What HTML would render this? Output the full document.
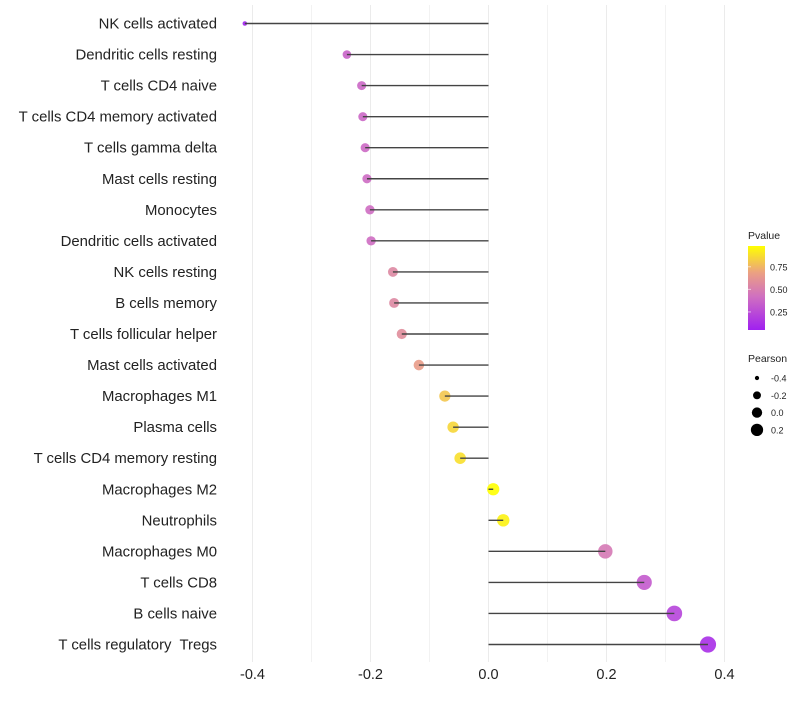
<!DOCTYPE html>
<html><head><meta charset="utf-8"><style>
body{margin:0;background:#fff;}
svg text{font-family:"Liberation Sans",Arial,sans-serif;}
</style></head><body>
<svg id="chart" width="800" height="700" viewBox="0 0 800 700" xmlns="http://www.w3.org/2000/svg">
<defs><linearGradient id="pg" x1="0" y1="1" x2="0" y2="0">
<stop offset="0" stop-color="#a020f0"/><stop offset="0.4" stop-color="#d070c0"/><stop offset="0.68" stop-color="#eba083"/><stop offset="1" stop-color="#ffff00"/></linearGradient></defs>
<g id="grid"></g>
<g id="rows"></g>
<g id="xaxis"></g>
<g>
<text x="748" y="239" font-size="10.5" fill="#222">Pvalue</text>
<rect x="748" y="246" width="17" height="84" fill="url(#pg)"/>
<g id="cbticks"></g>
</g>
<g id="sizeleg">
<text x="748" y="362" font-size="10.5" fill="#222">Pearson</text>
</g>
</svg>
<script>
const categories=["NK cells activated","Dendritic cells resting","T cells CD4 naive","T cells CD4 memory activated","T cells gamma delta","Mast cells resting","Monocytes","Dendritic cells activated","NK cells resting","B cells memory","T cells follicular helper","Mast cells activated","Macrophages M1","Plasma cells","T cells CD4 memory resting","Macrophages M2","Neutrophils","Macrophages M0","T cells CD8","B cells naive","T cells regulatory  Tregs"];
const pearson=[-0.413,-0.24,-0.215,-0.213,-0.209,-0.206,-0.201,-0.199,-0.162,-0.16,-0.147,-0.118,-0.074,-0.06,-0.048,0.008,0.025,0.198,0.264,0.315,0.372];
const pvalues=[0.06,0.36,0.38,0.38,0.39,0.4,0.41,0.41,0.55,0.55,0.58,0.66,0.8,0.85,0.88,0.98,0.94,0.47,0.32,0.22,0.12];
const xTicks=[-0.4,-0.2,0.0,0.2,0.4];
const xTickLabels=["-0.4","-0.2","0.0","0.2","0.4"];
const cbTicks=[0.25,0.5,0.75];
const cbTickLabels=["0.25","0.50","0.75"];
const sizeLegVals=[-0.4,-0.2,0.0,0.2];
const sizeLegLabels=["-0.4","-0.2","0.0","0.2"];

const NS="http://www.w3.org/2000/svg";
const X=v=>488.5+v*590;
const Y=i=>23.5+i*31.05;
const R=v=>1.15*Math.sqrt(Math.max(1,4+(v+0.413)*58));
const pmin=0.05,pmax=0.98;
const stops=[[0,[160,32,240]],[0.4,[208,112,192]],[0.68,[235,160,131]],[1,[255,255,0]]];
function col(p){let t=Math.min(1,Math.max(0,(p-pmin)/(pmax-pmin)));
 for(let k=0;k<stops.length-1;k++){const a=stops[k],b=stops[k+1];
  if(t<=b[0]){const u=(t-a[0])/(b[0]-a[0]);const c=a[1].map((x,j)=>Math.round(x+(b[1][j]-x)*u));return `rgb(${c[0]},${c[1]},${c[2]})`;}}
 return 'rgb(255,255,0)';}
function mk(tag,attrs,parent){const e=document.createElementNS(NS,tag);for(const k in attrs)e.setAttribute(k,attrs[k]);parent.appendChild(e);return e;}
const grid=document.getElementById('grid'),rows=document.getElementById('rows'),xa=document.getElementById('xaxis');
for(let v=-0.4;v<=0.401;v+=0.1){
 const l=mk('line',{x1:X(v),x2:X(v),y1:5,y2:662,stroke:Math.abs(Math.round(v*10))%2===0?'#ebebeb':'#f2f2f2','stroke-width':1},grid);
 
 
}
xTicks.forEach((v,i)=>{const t=mk('text',{x:X(v),y:679,'font-size':14.5,'text-anchor':'middle',fill:'#222'},xa);t.textContent=xTickLabels[i];
 
 });
categories.forEach((c,i)=>{
 const y=Y(i);
 const t=mk('text',{x:217,y:y+5,'font-size':14.9,'text-anchor':'end',fill:'#222'},rows);t.textContent=c;t.setAttribute('xml:space','preserve');t.style.whiteSpace='pre';
 
 
 const ci=mk('circle',{cx:X(pearson[i]),cy:y,r:R(pearson[i]),fill:col(pvalues[i]),'fill-opacity':0.9},rows);
 
 
 const s=mk('line',{x1:X(0),x2:X(pearson[i]),y1:y,y2:y,stroke:'#444','stroke-width':1.4},rows);
 
 
});
const cb=document.getElementById('cbticks');
cbTicks.forEach((p,i)=>{const y=330-(p-pmin)/(pmax-pmin)*84;
 const l=mk('line',{x1:748,x2:751,y1:y,y2:y,stroke:'#fff','stroke-opacity':0.6},cb);
 
 
 const t=mk('text',{x:770,y:y+3.5,'font-size':9,fill:'#222'},cb);t.textContent=cbTickLabels[i];
 
 });
const sl=document.getElementById('sizeleg');
sizeLegVals.forEach((v,i)=>{const y=378+i*17.3;
 const c=mk('circle',{cx:757,cy:y,r:R(v)*0.85,fill:'#000'},sl);
 
 
 const t=mk('text',{x:771,y:y+3.5,'font-size':9,fill:'#222'},sl);t.textContent=sizeLegLabels[i];
 
 });
</script>
</body></html>
